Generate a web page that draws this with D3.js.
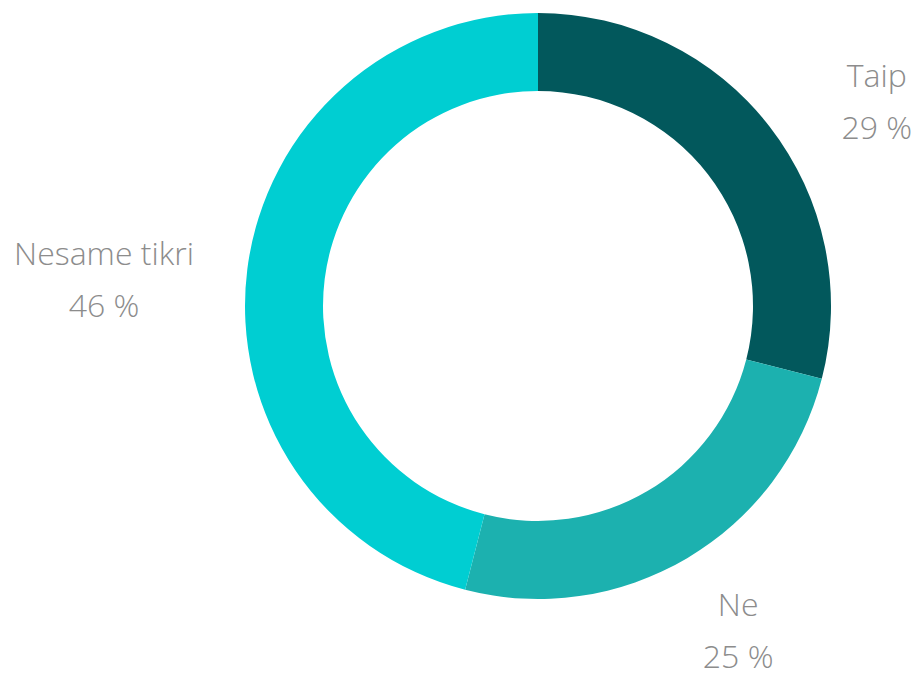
<!DOCTYPE html>
<html>
<head>
<meta charset="utf-8">
<script src="https://cdn.jsdelivr.net/npm/d3@7"></script>
<style>
  body { margin: 0; background: #fff; }
  text { font-family: "Segoe UI Light", "Open Sans", "Lato", sans-serif; font-weight: 300; }
</style>
</head>
<body>
<svg></svg>
<script>
/* data */
var categories = ["Taip", "Ne", "Nesame tikri"];
var values = [29, 25, 46];
var colors = ["#02585c", "#1cb1af", "#00ced2"];

/* svg setting */
var svgWidth = 917;
var svgHeight = 676;
var center = {x: 538, y: 306};
var outerR = 293;
var innerR = 215;
var labelR = 365;
var lineGap = 52;
// small hand nudges so the labels sit where the original put them
var labelShiftX = [15, -21, 18];
var labelShiftY = [2, -7, 2];

var svg = d3.select("svg")
    .attr('width', svgWidth)
    .attr('height', svgHeight);

var g = svg.append('g')
    .attr('transform', translate(center.x, center.y));

var pie = d3.pie().sort(null).value(function(d){ return d; });
var arcs = pie(values);

var arc = d3.arc().innerRadius(innerR).outerRadius(outerR);

g.selectAll('path')
    .data(arcs)
    .enter()
    .append('path')
    .attr('d', arc)
    .attr('fill', function(d, i){ return colors[i]; });

/* labels */
var total = d3.sum(values);
var labels = g.selectAll('g.label')
    .data(arcs)
    .enter()
    .append('g')
    .attr('class', 'label');

labels.each(function(d, i){
  var lab = d3.select(this);
  var t1 = lab.append('text')
      .attr('text-anchor', 'middle')
      .attr('y', 0)
      .attr('fill', '#8c8c8c')
      .style('font-size', '32px')
      .text(categories[i]);
  var t2 = lab.append('text')
      .attr('text-anchor', 'middle')
      .attr('y', lineGap)
      .attr('fill', '#8c8c8c')
      .style('font-size', '32px')
      .text(Math.round(d.value / total * 100) + ' %');
  var w = Math.max(t1.node().getComputedTextLength(), t2.node().getComputedTextLength());
  var a = (d.startAngle + d.endAngle) / 2;
  var x = Math.sin(a) * labelR;
  var y = -Math.cos(a) * labelR;
  x += (Math.sin(a) >= 0 ? 1 : -1) * w / 2 + labelShiftX[i];
  lab.attr('transform', translate(x, y + 3 + labelShiftY[i]));
});

function translate(x, y) {
  return 'translate(' + x + ',' + y + ')';
}
</script>
</body>
</html>
